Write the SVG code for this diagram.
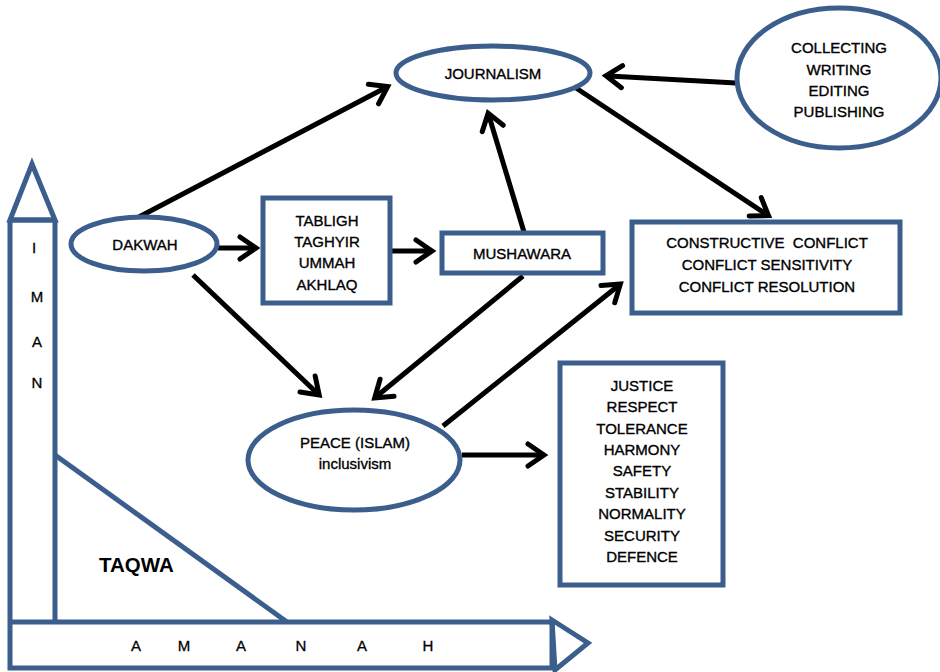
<svg xmlns="http://www.w3.org/2000/svg" width="940" height="672" viewBox="0 0 940 672">
<style>
.shape{fill:#fff;stroke:#3b5e8c;stroke-width:5}
.frame{fill:none;stroke:#3b5e8c;stroke-width:5;stroke-linejoin:miter}
.t{font-family:"Liberation Sans",Arial,sans-serif;font-size:15px;fill:#000;stroke:#000;stroke-width:0.35;text-anchor:middle;white-space:pre}
.big{font-family:"Liberation Sans",Arial,sans-serif;font-size:20.5px;font-weight:bold;fill:#000}
.let{font-family:"Liberation Sans",Arial,sans-serif;font-size:15px;fill:#000;stroke:#000;stroke-width:0.3;text-anchor:middle}
.c{stroke:#000;stroke-width:5;fill:none;marker-end:url(#arr)}
</style>
<defs>
<marker id="arr" markerUnits="userSpaceOnUse" viewBox="-22 -14 28 28" refX="-3" refY="0" markerWidth="28" markerHeight="28" orient="auto">
<path d="M-16,-11 L0,0 L-16,11" fill="none" stroke="#000" stroke-width="5" stroke-linecap="round"/>
</marker>
</defs>
<g id="base-frame">
<polygon class="frame" points="10,220 32,164 55,220"/>
<path class="frame" d="M10,220 L10,668 L552,668 L552,622 L10,622 M55,220 L10,220 M55,220 L55,622"/>
<polyline class="frame" points="55,455 287,622"/>
<polygon class="frame" points="552,620 588,643 555,670"/>
</g>
<g id="iman">
<text class="let" x="34" y="253">I</text>
<text class="let" x="37" y="302">M</text>
<text class="let" x="37" y="347">A</text>
<text class="let" x="37" y="388">N</text>
</g>
<g id="taqwa"><text class="big" x="99" y="572">TAQWA</text></g>
<g id="amanah">
<text class="let" x="136" y="651">A</text>
<text class="let" x="184" y="651">M</text>
<text class="let" x="241" y="651">A</text>
<text class="let" x="301" y="651">N</text>
<text class="let" x="362" y="651">A</text>
<text class="let" x="428" y="651">H</text>
</g>
<g id="connectors">
<line class="c" x1="137" y1="218" x2="385" y2="88"/>
<line class="c" x1="736" y1="83" x2="609" y2="76"/>
<line class="c" x1="576" y1="88" x2="766" y2="214"/>
<line class="c" x1="524" y1="232" x2="489" y2="116"/>
<line class="c" x1="218" y1="248" x2="253" y2="248"/>
<line class="c" x1="392" y1="251" x2="429" y2="251"/>
<line class="c" x1="193" y1="275" x2="317" y2="393"/>
<line class="c" x1="523" y1="276" x2="377" y2="396"/>
<line class="c" x1="443" y1="426" x2="618" y2="286"/>
<line class="c" x1="462" y1="455" x2="541" y2="455"/>
</g>
<g id="journalism">
<ellipse class="shape" cx="493" cy="73" rx="97" ry="27"/>
<text class="t" x="493" y="79">JOURNALISM</text>
</g>
<g id="collecting">
<ellipse class="shape" cx="839" cy="78" rx="102" ry="70"/>
<text class="t" x="839" y="53">COLLECTING</text>
<text class="t" x="839" y="75">WRITING</text>
<text class="t" x="839" y="96">EDITING</text>
<text class="t" x="839" y="117">PUBLISHING</text>
</g>
<g id="dakwah">
<ellipse class="shape" cx="144" cy="244" rx="73" ry="27"/>
<text class="t" x="145" y="250">DAKWAH</text>
</g>
<g id="tabligh">
<rect class="shape" x="263" y="198" width="127" height="105"/>
<text class="t" x="327" y="226">TABLIGH</text>
<text class="t" x="327" y="247">TAGHYIR</text>
<text class="t" x="327" y="268">UMMAH</text>
<text class="t" x="327" y="290">AKHLAQ</text>
</g>
<g id="mushawara">
<rect class="shape" x="442" y="233" width="161" height="40"/>
<text class="t" x="522" y="259">MUSHAWARA</text>
</g>
<g id="conflict">
<rect class="shape" x="632" y="222" width="268" height="91"/>
<text class="t" x="767" y="248" xml:space="preserve">CONSTRUCTIVE  CONFLICT</text>
<text class="t" x="767" y="270">CONFLICT SENSITIVITY</text>
<text class="t" x="767" y="292">CONFLICT RESOLUTION</text>
</g>
<g id="peace">
<ellipse class="shape" cx="354" cy="460" rx="106" ry="50"/>
<text class="t" x="355" y="448">PEACE (ISLAM)</text>
<text class="t" x="355" y="469">inclusivism</text>
</g>
<g id="values">
<rect class="shape" x="560" y="363" width="163" height="222"/>
<text class="t" x="642" y="391">JUSTICE</text>
<text class="t" x="642" y="412">RESPECT</text>
<text class="t" x="642" y="434">TOLERANCE</text>
<text class="t" x="642" y="455">HARMONY</text>
<text class="t" x="642" y="476">SAFETY</text>
<text class="t" x="642" y="498">STABILITY</text>
<text class="t" x="642" y="519">NORMALITY</text>
<text class="t" x="642" y="541">SECURITY</text>
<text class="t" x="642" y="562">DEFENCE</text>
</g>
</svg>
